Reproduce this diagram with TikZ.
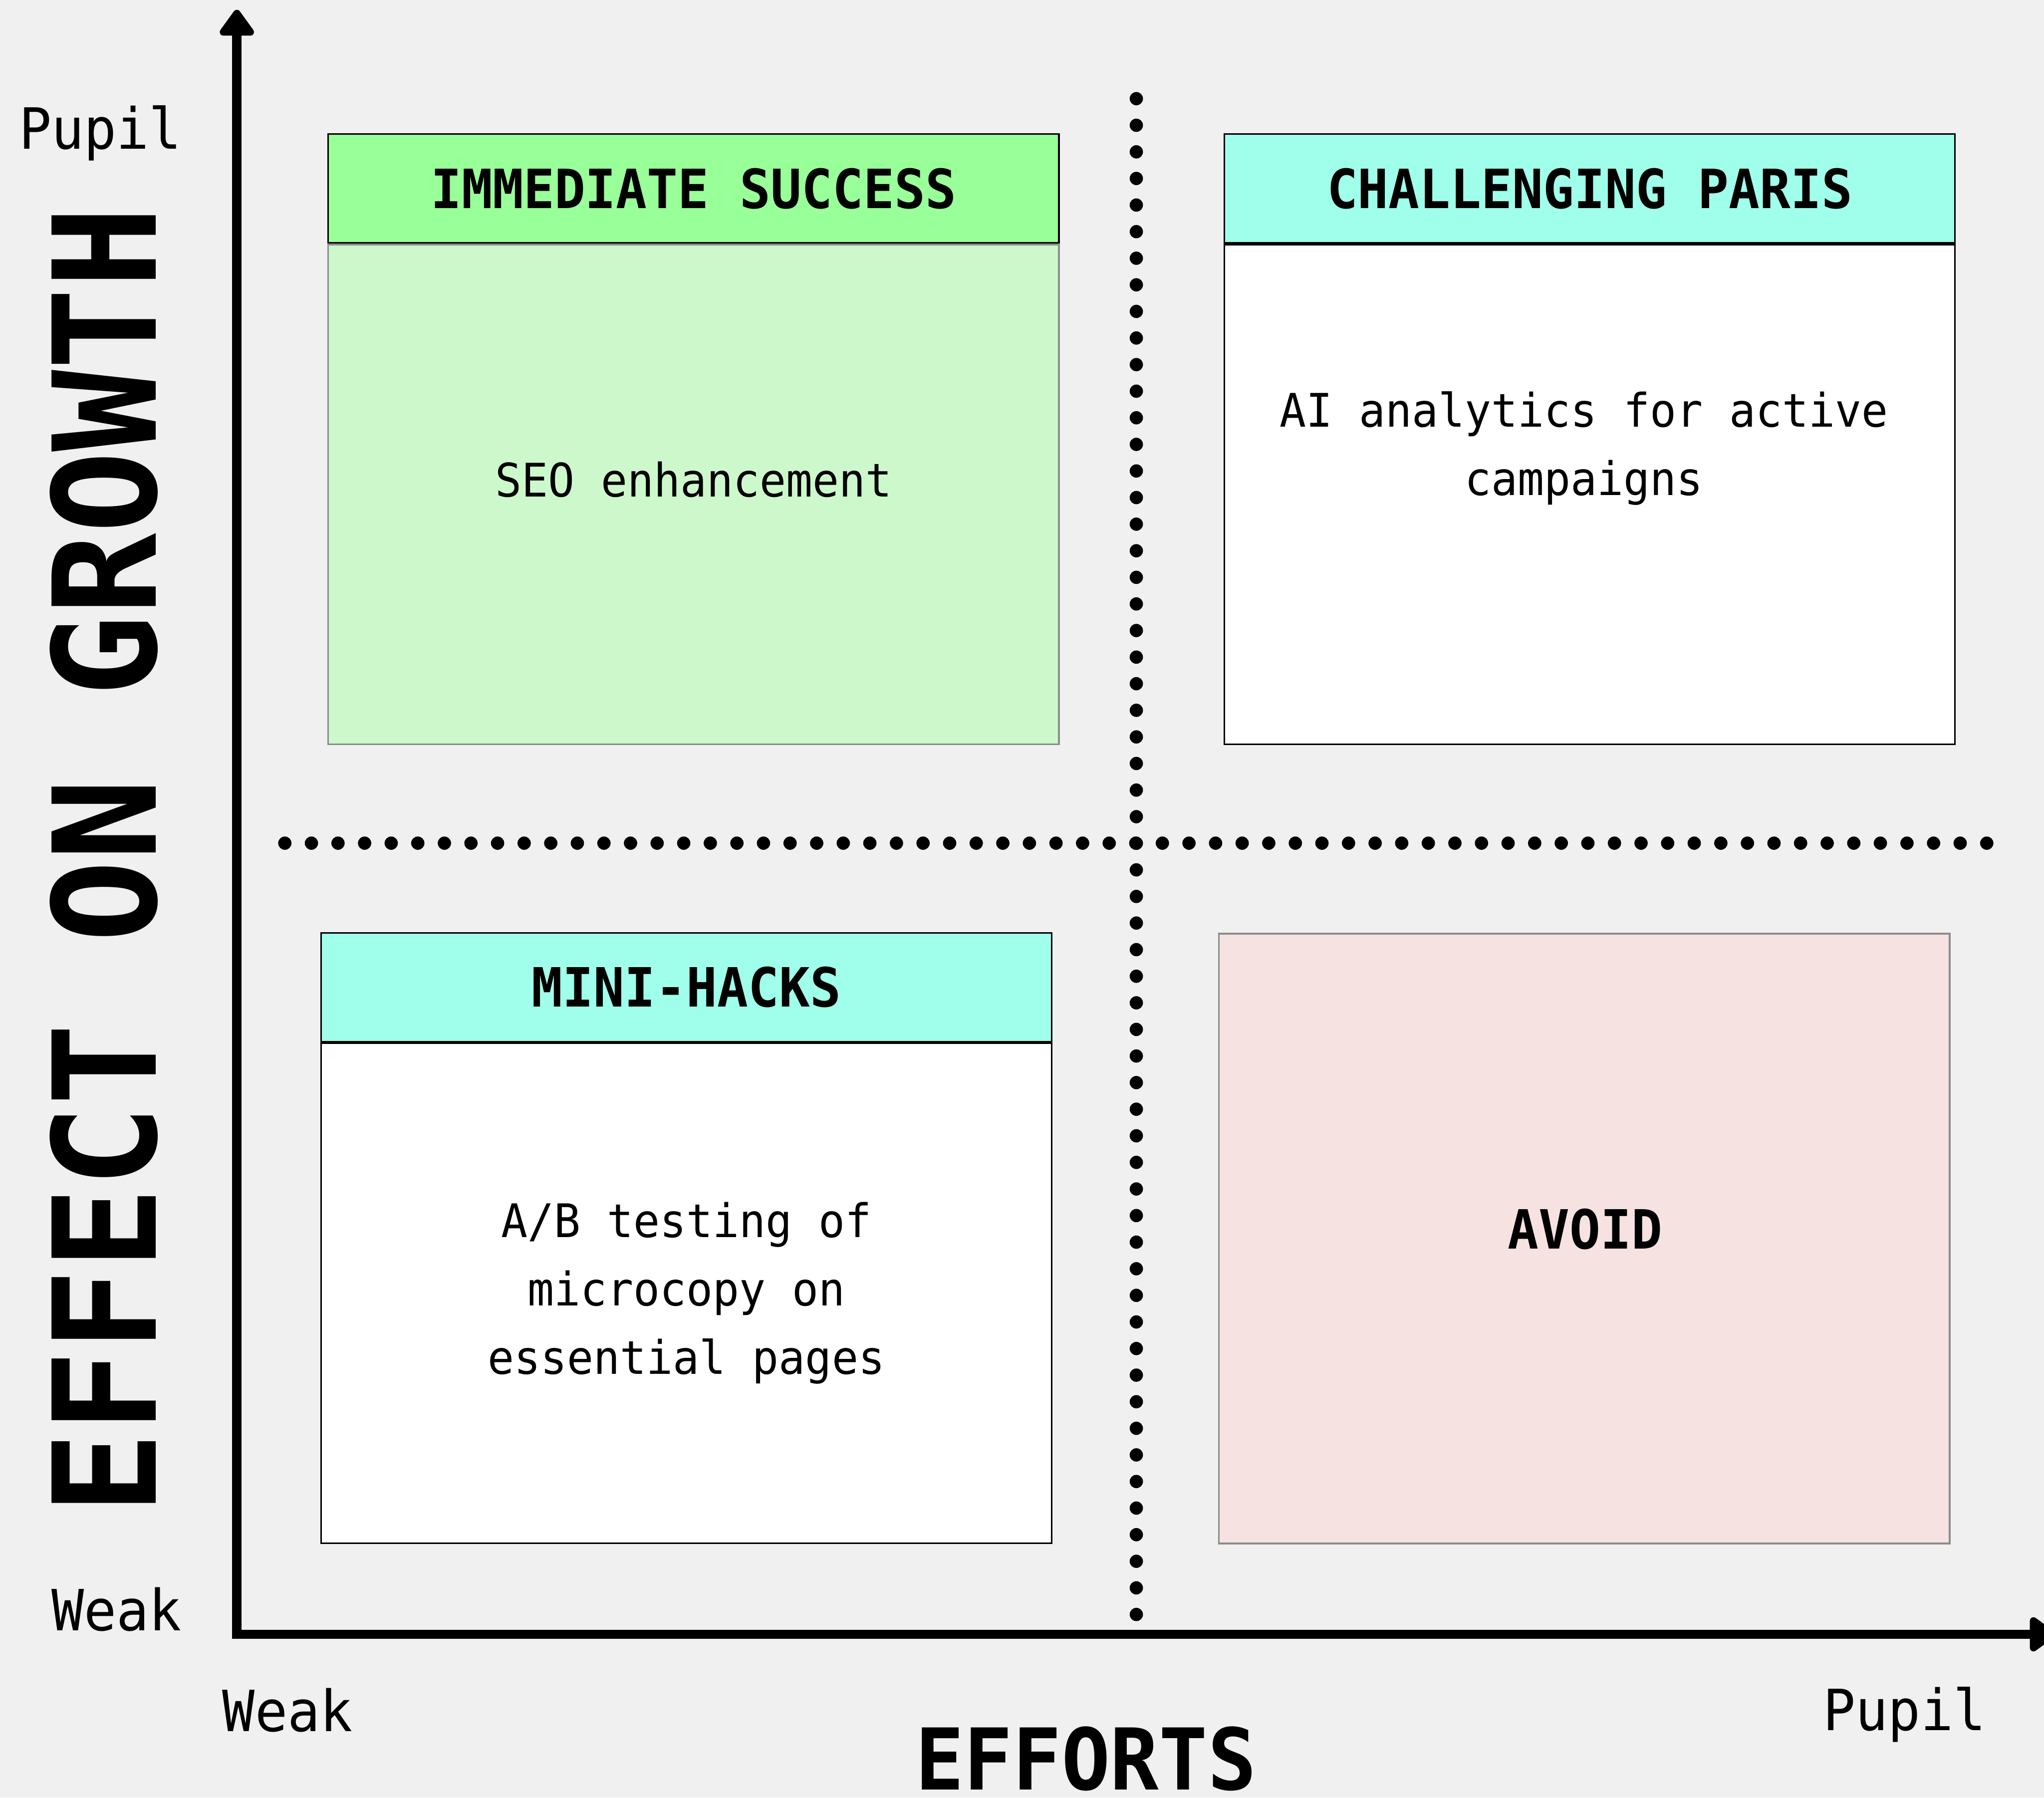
\documentclass[tikz,border=0pt]{standalone}
\usepackage{fontspec}
\setmonofont[FakeStretch=0.95]{DejaVu Sans Mono}
\usepackage{xcolor}
\usepackage{tikz}
\usetikzlibrary{positioning,arrows.meta}
\definecolor{bgGray}{RGB}{240,240,240}
\definecolor{winGreen}{RGB}{153,255,153}
\definecolor{winBody}{RGB}{205,248,204}
\definecolor{headAqua}{RGB}{160,255,234}
\definecolor{avoidPink}{RGB}{245,226,225}
\definecolor{edgeGray}{RGB}{140,140,140}

\begin{document}
\begin{tikzpicture}[
    quad/.style={rectangle, draw, line width=0.35pt, minimum width=5.605cm, minimum height=3.834cm, inner sep=0pt},
    head/.style={rectangle, draw, line width=0.35pt, minimum width=5.605cm, minimum height=0.835cm, inner sep=0pt, font=\ttfamily\bfseries\fontsize{11.8}{14}\selectfont},
    note/.style={align=center, font=\ttfamily\fontsize{10.1}{14.9}\selectfont},
    ticklabel/.style={inner sep=0pt, font=\ttfamily\fontsize{12.4}{14}\selectfont},
    axistitle/.style={inner sep=0pt, font=\ttfamily\bfseries\fontsize{31.2}{36}\selectfont},
    axis/.style={line width=2pt, {Triangle[round, length=0.22cm, width=0.30cm]}-{Triangle[round, length=0.22cm, width=0.30cm]}},
    dotline/.style={line width=0.102cm, line cap=round, dash pattern=on 0pt off 0.2040cm}
]
    \useasboundingbox (0,0) rectangle (15.68,13.79);
    \fill[bgGray] (0,0) rectangle (15.68,13.79);
    \clip (0,0) rectangle (15.68,13.79);

    % axes
    \coordinate (origin) at (1.817,1.253);
    \coordinate (ytip) at (1.817,13.715);
    \coordinate (xtip) at (15.77,1.253);
    \draw[axis] (ytip) |- (xtip);

    % quadrant separators
    \coordinate (vtop) at (8.717,13.033);
    \coordinate (vbot) at (8.717,1.403);
    \coordinate (hleft) at (2.185,7.322);
    \coordinate (hright) at (15.243,7.322);
    \draw[dotline] (vtop) -- (vbot);
    \draw[dotline] (hleft) -- (hright);

    % quadrants
    \node[quad, fill=winBody, draw=edgeGray] (qwin) at (5.3205,9.997) {};
    \node[head, fill=winGreen, above=0pt of qwin] (qwinhead) {IMMEDIATE SUCCESS};
    \node[note, anchor=base] (seo) at (5.3205,9.98) {SEO enhancement};

    \node[quad, fill=white] (qhard) at (12.195,9.997) {};
    \node[head, fill=headAqua, above=0pt of qhard] (qhardhead) {CHALLENGING PARIS};
    \node[note] (ai) at (12.15,10.35) {AI analytics for active\\campaigns};

    \node[quad, fill=white] (qmini) at (5.265,3.87) {};
    \node[head, fill=headAqua, above=0pt of qmini] (qminihead) {MINI-HACKS};
    \node[note] (abtest) at (5.265,3.87) {A/B testing of\\microcopy on\\essential pages};

    \node[quad, fill=avoidPink, draw=edgeGray, minimum height=4.678cm] (qavoid) at (12.154,4.289) {};
    \node[head, draw=none, anchor=base] (avoid) at (12.16,4.21) {AVOID};

    % axis labels
    \node[ticklabel, anchor=base east] (yhigh) at (1.40,12.646) {Pupil};
    \node[ticklabel, anchor=base east] (ylow) at (1.40,1.28) {Weak};
    \node[ticklabel, anchor=base west] (xlow) at (1.70,0.51) {Weak};
    \node[ticklabel, anchor=base east] (xhigh) at (15.24,0.518) {Pupil};
    \node[axistitle, rotate=90, anchor=base] (ytitle) at (1.197,7.19) {EFFECT ON GROWTH};
    \node[axistitle, font=\ttfamily\bfseries\fontsize{18.6}{22}\selectfont, anchor=base] (xtitle) at (8.33,0.06) {EFFORTS};
\end{tikzpicture}
\end{document}
